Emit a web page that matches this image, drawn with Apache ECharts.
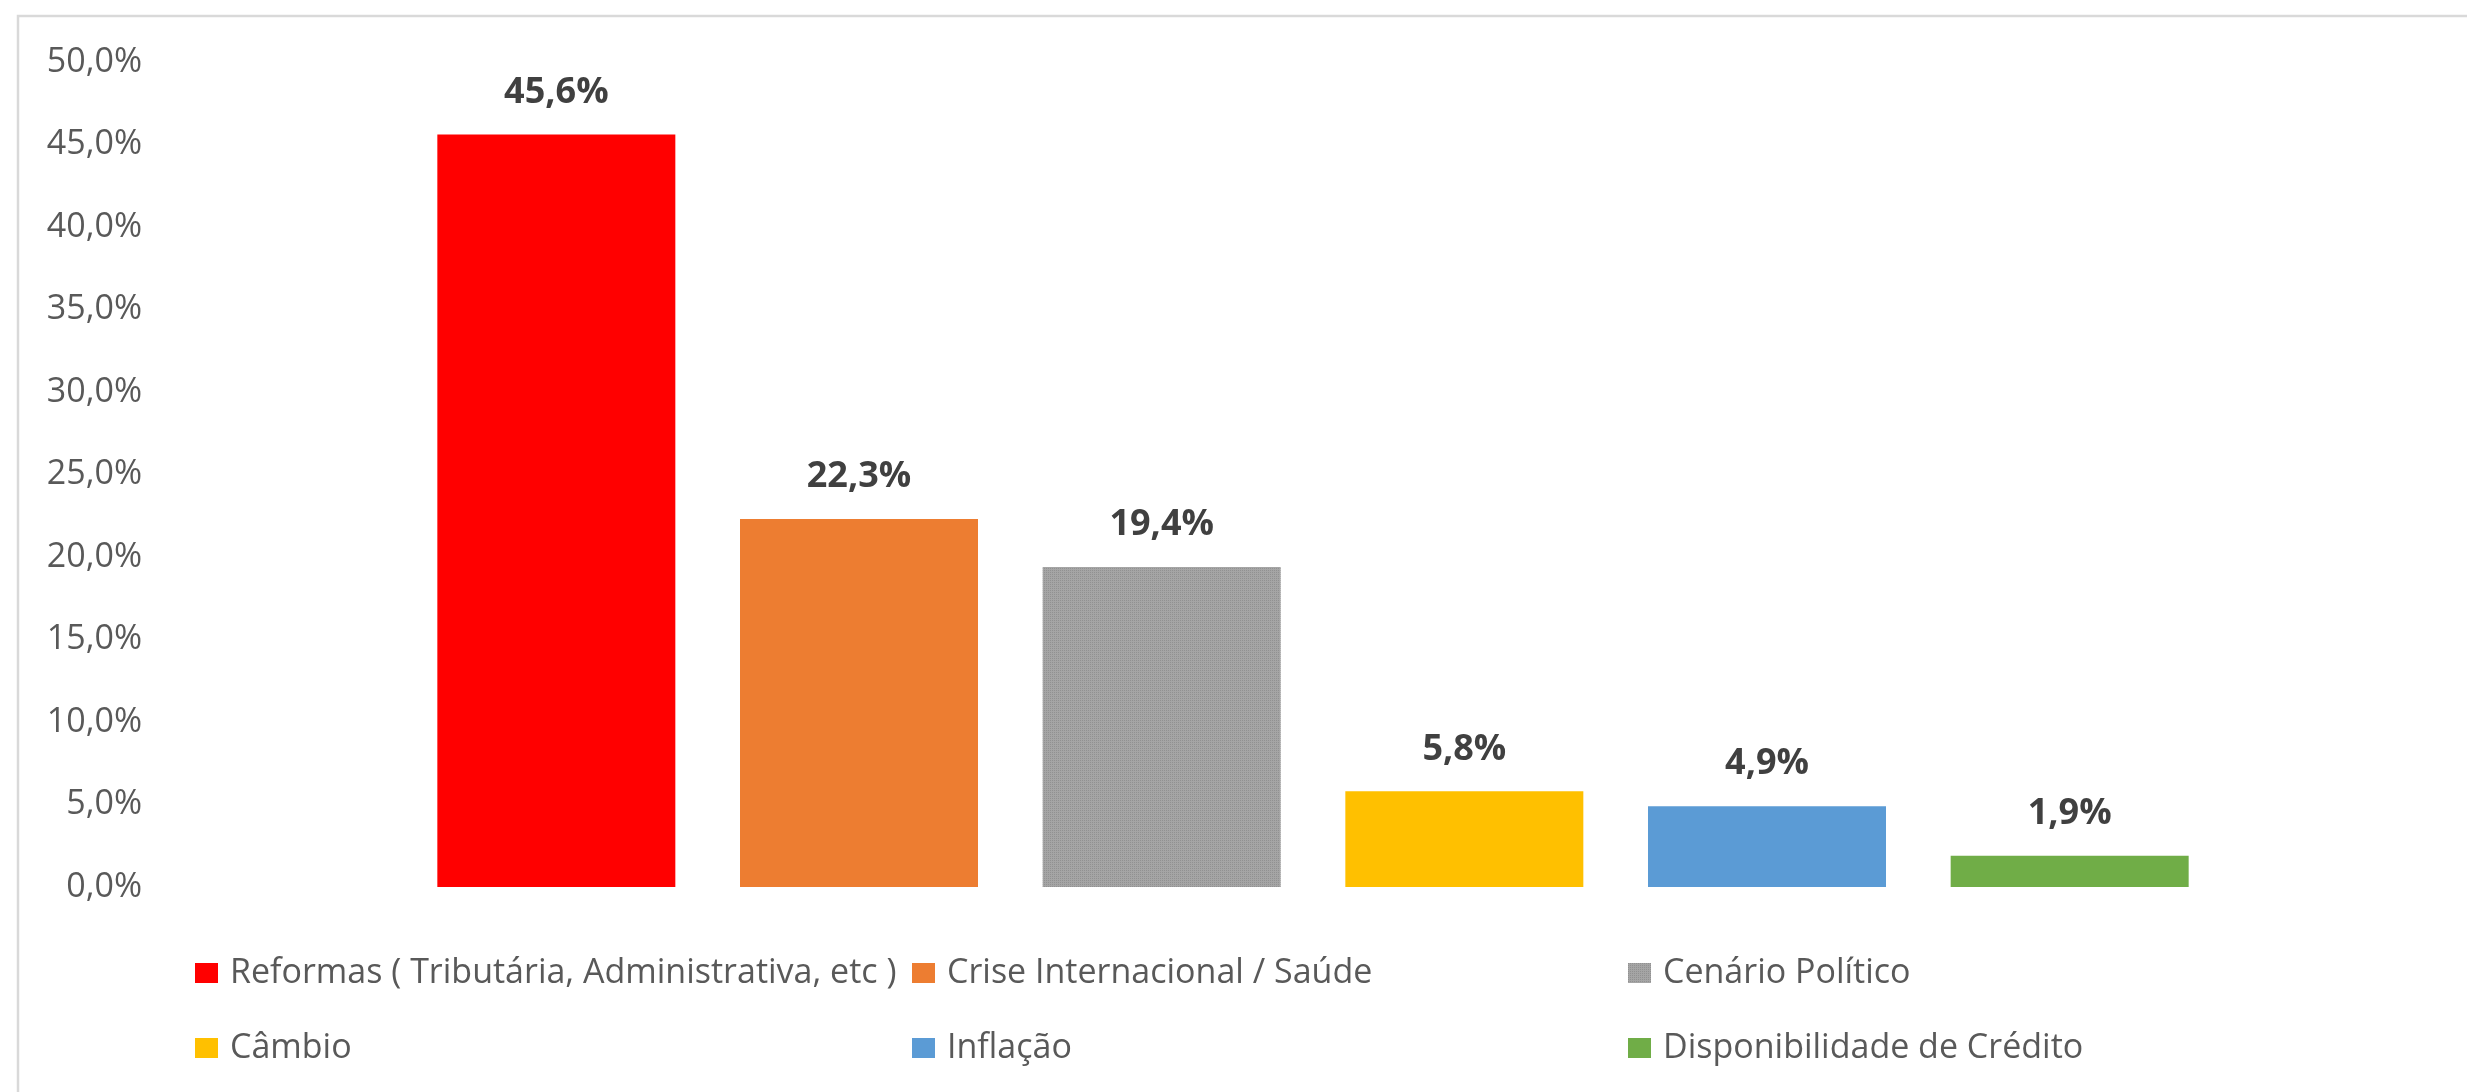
<!DOCTYPE html>
<html>
<head>
<meta charset="utf-8">
<title>Fatores</title>
<script src="https://cdn.jsdelivr.net/npm/echarts@6/dist/echarts.min.js"></script>
<style>
  html, body { margin: 0; padding: 0; background: #fff; }
  #chart { width: 2467px; height: 1092px; }
</style>
</head>
<body>
<div id="chart"></div>
<script>
var categories = [
  "Reformas ( Tributária, Administrativa, etc )",
  "Crise Internacional / Saúde",
  "Cenário Político",
  "Câmbio",
  "Inflação",
  "Disponibilidade de Crédito"
];
var values = [45.6, 22.3, 19.4, 5.8, 4.9, 1.9];
var colors = ["#FF0000", "#ED7D31", "#A5A5A5", "#FFC000", "#5B9BD5", "#70AD47"];
var yTicks = [0, 5, 10, 15, 20, 25, 30, 35, 40, 45, 50];

// legend columns (two rows each)
var legendCols = [
  [categories[0], categories[3]],
  [categories[1], categories[4]],
  [categories[2], categories[5]]
];

(function () {
  var chart = echarts.init(document.getElementById("chart"));

  function pct(v) {
    return v.toFixed(1).replace(".", ",") + "%";
  }

  var series = categories.map(function (name, i) {
    var data = categories.map(function (c, j) {
      return j === i ? values[i] : "-";
    });
    var itemStyle = { color: colors[i] };
    if (i === 2) {
      // Excel-like dotted fill on the grey bar
      itemStyle.decal = {
        symbol: "rect",
        symbolSize: 1,
        dashArrayX: [1, 1],
        dashArrayY: [1, 1],
        color: "rgba(110,110,110,0.35)"
      };
    }
    return {
      name: name,
      type: "bar",
      data: data,
      barWidth: 238,
      barGap: "-100%",
      itemStyle: itemStyle,
      label: {
        show: true,
        position: "top",
        distance: 24,
        fontFamily: "Open Sans",
        fontWeight: "bold",
        fontSize: 36,
        lineHeight: 36,
        color: "#404040",
        formatter: function (p) {
          return pct(p.value);
        }
      }
    };
  });

  var legends = legendCols.map(function (names, k) {
    return {
      orient: "vertical",
      left: [195, 912, 1628][k],
      top: 956,
      padding: 0,
      itemWidth: 23,
      itemHeight: 20,
      itemGap: 41,
      icon: "rect",
      data: names,
      selectedMode: false,
      textStyle: {
        fontFamily: "Open Sans",
        fontSize: 34,
        lineHeight: 20,
        color: "#595959",
        padding: [0, 0, 0, 7]
      }
    };
  });

  var option = {
    animation: false,
    aria: { enabled: true, decal: { show: false } },
    grid: { left: 405, right: 246, top: 62, bottom: 205, containLabel: false },
    legend: legends,
    graphic: [
      {
        type: "rect",
        shape: { x: 18, y: 16, width: 2600, height: 1200 },
        style: { fill: "none", stroke: "#D9D9D9", lineWidth: 2.5 },
        silent: true,
        z: -1
      }
    ],
    xAxis: {
      type: "category",
      data: categories,
      axisLine: { show: false },
      axisTick: { show: false },
      axisLabel: { show: false },
      splitLine: { show: false }
    },
    yAxis: {
      type: "value",
      min: yTicks[0],
      max: yTicks[yTicks.length - 1],
      interval: 5,
      axisLine: { show: false },
      axisTick: { show: false },
      splitLine: { show: false },
      axisLabel: {
        margin: 263,
        fontFamily: "Open Sans",
        fontSize: 34,
        color: "#595959",
        formatter: function (v) {
          return pct(v);
        }
      }
    },
    series: series
  };

  chart.setOption(option);

  window.addEventListener("resize", function () {
    chart.resize();
  });
})();
</script>
</body>
</html>
